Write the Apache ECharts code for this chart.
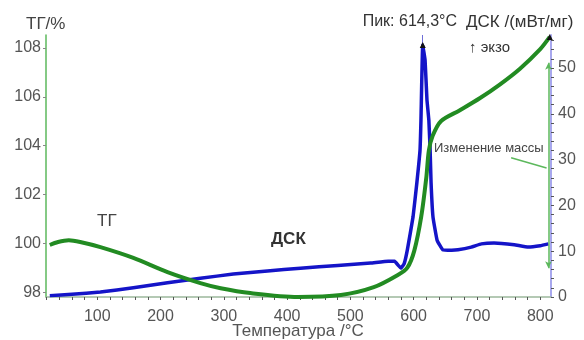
<!DOCTYPE html>
<html>
<head>
<meta charset="utf-8">
<script src="https://cdn.jsdelivr.net/npm/echarts@6/dist/echarts.min.js"></script>
<style>html,body{margin:0;padding:0;background:#fff}#c{width:584px;height:340px}</style>
</head>
<body>
<div id="c"></div>
<script>
// TG curve (mass, %)
const tgTemp = [25, 38, 55, 73, 105, 157, 211, 263, 295, 342, 417, 485, 537, 575, 590, 601, 612, 620, 624, 630, 643, 673, 705, 736, 768, 800, 815];
const tgValues = [99.93, 100.05, 100.12, 100.05, 99.84, 99.4, 98.82, 98.37, 98.16, 97.96, 97.8, 97.88, 98.2, 98.7, 99.0, 99.7, 101.1, 102.7, 103.8, 104.4, 105.0, 105.45, 105.95, 106.5, 107.15, 107.95, 108.45];
// DSC curve (mW/mg)
const dscTemp = [25, 60, 105, 157, 211, 263, 315, 369, 421, 480, 532, 560, 570, 575, 580, 585, 590, 599, 605, 610, 611.5, 614.3, 618, 621, 624, 626, 627.5, 630.5, 637, 646, 660, 670, 691, 707, 727, 759, 781, 800, 813];
const dscValues = [0.3, 0.6, 1.1, 2.0, 3.1, 4.1, 5.0, 5.7, 6.3, 6.9, 7.4, 7.8, 7.8, 7.0, 6.3, 7.3, 10.3, 17.5, 24.9, 32, 38.6, 55, 51.7, 43, 38.6, 32, 24.9, 17.5, 12.4, 10.3, 10.2, 10.3, 10.9, 11.6, 11.8, 11.4, 10.9, 11.2, 11.6];
// ticks
const xTicks = [100, 200, 300, 400, 500, 600, 700, 800];
const tgTicks = [98, 100, 102, 104, 106, 108];
const dscTicks = [0, 10, 20, 30, 40, 50];
const peakT = 614.3, peakV = 55;
const massArrowT = 813, massTop = 107.39, massBottom = 98.98;

const xMinor = []; for (let v = 20; v <= 800; v += 20) xMinor.push(v);
const dscMinor = []; for (let v = 0; v <= 56; v += 2) dscMinor.push(v);

const FONT = 'Liberation Sans, Arial, sans-serif';
const chart = echarts.init(document.getElementById('c'), null, {renderer: 'canvas'});
function txt(x, y, text, size, color, align, bold) {
  return {type: 'text', x: x, y: y, style: {text: text, fontSize: size, fontFamily: FONT, fill: color,
    align: align || 'left', verticalAlign: 'middle', fontWeight: bold ? 'bold' : 'normal'}};
}
chart.setOption({
  animation: false,
  backgroundColor: '#fff',
  grid: {left: 46, right: 33, top: 35, bottom: 43},
  xAxis: {
    type: 'value', min: 19, max: 817,
    axisLine: {lineStyle: {color: '#9cb89c', width: 1.5}},
    axisTick: {customValues: xMinor, length: 3, lineStyle: {color: '#555'}},
    axisLabel: {customValues: xTicks, color: '#555', fontSize: 16, fontFamily: FONT, margin: 12},
    splitLine: {show: false}
  },
  yAxis: [{
    type: 'value', min: 97.8, max: 108.53, position: 'left',
    axisLine: {show: true, lineStyle: {color: '#5cb85c', width: 1.5}},
    axisTick: {customValues: tgTicks, length: 3, lineStyle: {color: '#888'}},
    axisLabel: {customValues: tgTicks, color: '#555', fontSize: 16, fontFamily: FONT, margin: 5},
    splitLine: {show: false}
  }, {
    type: 'value', min: 0, max: 57.2, position: 'right',
    axisLine: {show: true, lineStyle: {color: '#a8a8ee', width: 2}},
    axisTick: {customValues: dscMinor, length: 3, lineStyle: {color: '#555'}},
    axisLabel: {customValues: dscTicks, color: '#555', fontSize: 16, fontFamily: FONT, margin: 7},
    splitLine: {show: false}
  }],
  series: [{
    name: 'DSC', type: 'line', yAxisIndex: 1, smooth: 0.1, symbol: 'none',
    data: dscTemp.map((t, i) => [t, dscValues[i]]),
    lineStyle: {color: '#1414c8', width: 3.5, join: 'round'},
    markLine: {
      silent: true, symbol: 'none', label: {show: false},
      lineStyle: {color: '#6f6fd8', width: 1, type: 'solid'},
      data: [[{coord: [peakT, peakV]}, {coord: [peakT, 57.2]}]]
    },
    markPoint: {
      symbol: 'triangle', symbolSize: 6, label: {show: false},
      itemStyle: {color: '#111'},
      data: [{coord: [peakT, peakV]}]
    },
    z: 3
  }, {
    name: 'TG', type: 'line', yAxisIndex: 0, smooth: 0.3, symbol: 'none',
    data: tgTemp.map((t, i) => [t, tgValues[i]]),
    lineStyle: {color: '#228b22', width: 4, join: 'round'},
    markLine: {
      silent: true, label: {show: false},
      symbol: ['arrow', 'arrow'], symbolSize: [5, 7],
      lineStyle: {color: '#5cb85c', width: 1.5, type: 'solid'},
      data: [
        [{coord: [massArrowT, massBottom]}, {coord: [massArrowT, massTop]}],
        [{coord: [754, 103.5], symbol: 'none'}, {coord: [810, 103.08], symbol: 'none'}]
      ]
    },
    markPoint: {
      symbol: 'triangle', symbolSize: 6, label: {show: false},
      itemStyle: {color: '#111'},
      data: [{coord: [815, 108.45]}]
    },
    z: 4
  }],
  graphic: [
    txt(26, 24, 'ТГ/%', 17, '#444'),
    txt(457, 22, 'Пик: 614,3°C', 16, '#333', 'right'),
    txt(466, 22, 'ДСК /(мВт/мг)', 17, '#333'),
    txt(469, 48, '↑ экзо', 15, '#333'),
    txt(434, 148, 'Изменение массы', 13, '#444'),
    txt(97, 221, 'ТГ', 17, '#444'),
    txt(271, 239, 'ДСК', 17, '#333', 'left', true),
    txt(298, 331, 'Температура /°C', 17, '#555', 'center')
  ]
});
</script>
</body>
</html>
